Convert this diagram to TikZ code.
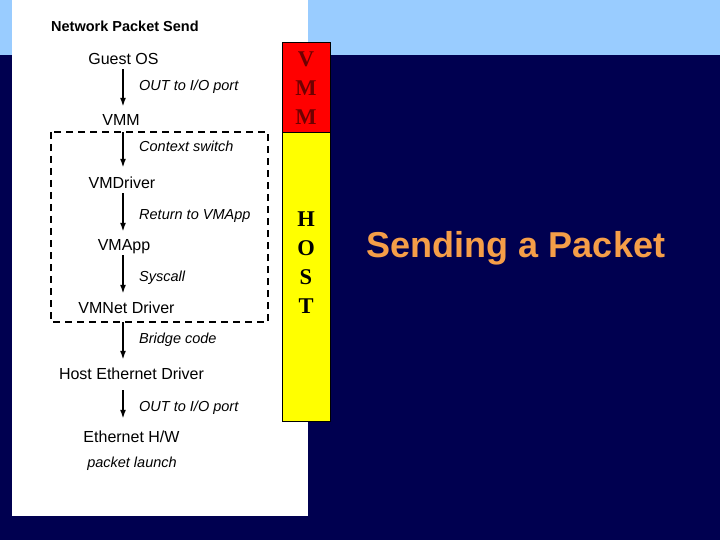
\documentclass[tikz,border=0pt]{standalone}
\usepackage{fontspec}
\setmainfont{Liberation Sans}
\newfontfamily\timesfont{Liberation Serif}
\usepackage{xcolor}
\usetikzlibrary{positioning,arrows.meta}
\definecolor{navybg}{RGB}{0,0,80}
\definecolor{skyband}{RGB}{153,204,255}
\definecolor{vmmred}{RGB}{255,0,0}
\definecolor{vmmtext}{RGB}{110,0,0}
\definecolor{hostyellow}{RGB}{255,255,0}
\definecolor{titleorange}{RGB}{245,158,72}

\begin{document}
\begin{tikzpicture}[
  x=1pt, y=-1pt,
  stage/.style={anchor=base, inner sep=0pt, text height=12pt, text depth=4pt, font=\fontsize{16}{19}\selectfont},
  lbl/.style={anchor=base west, inner sep=0pt, font=\fontsize{14.5}{17}\selectfont\itshape},
  layer/.style={draw=black, line width=0.8pt, minimum width=48pt, inner sep=0pt},
  letters/.style={inner sep=0pt, align=center, font=\timesfont\bfseries\fontsize{22.5}{29}\selectfont},
  arr/.style={-{Latex[length=9pt,width=6pt]}, line width=1.7pt, shorten >=7pt}
]
\useasboundingbox (0,0) rectangle (720,540);
\fill[navybg] (0,0) rectangle (720,540);
\fill[skyband] (0,0) rectangle (720,55);
\fill[white] (12,0) rectangle (308,516);

\draw[line width=1.6pt, dash pattern=on 7pt off 5pt] (51,132) rectangle (268,322);

\node[anchor=base west, inner sep=0pt, font=\bfseries\fontsize{14.5}{17}\selectfont] (title) at (51,32) {Network Packet Send};

\coordinate (flow) at (123,0);
\node[stage] (guest) at (123.5,65) {Guest OS};
\node[stage] (vmm) at (121,126) {VMM};
\node[stage] (vmdrv) at (122,189) {VMDriver};
\node[stage] (vmapp) at (124,251) {VMApp};
\node[stage] (vmnet) at (126.5,313) {VMNet Driver};
\node[stage] (hosteth) at (131.5,379) {Host Ethernet Driver};
\node[stage] (ethhw) at (131.5,442) {Ethernet H/W};

\node[lbl] (l1) at (139,91) {OUT to I/O port};
\node[lbl] (l2) at (139,152) {Context switch};
\node[lbl] (l3) at (139,219) {Return to VMApp};
\node[lbl] (l4) at (139,281) {Syscall};
\node[lbl] (l5) at (139,343) {Bridge code};
\node[lbl] (l6) at (139,411) {OUT to I/O port};
\node[lbl, anchor=base] (launch) at (132,467) {packet launch};

\draw[arr] (guest.south -| flow) -- (vmm.north -| flow);
\draw[arr, shorten <=2pt, shorten >=9pt] (vmm.south -| flow) -- (vmdrv.north -| flow);
\draw[arr] (vmdrv.south -| flow) -- (vmapp.north -| flow);
\draw[arr] (vmapp.south -| flow) -- (vmnet.north -| flow);
\draw[arr, shorten <=5pt] (vmnet.south -| flow) -- (hosteth.north -| flow);
\draw[arr, shorten <=7pt, shorten >=11pt] (hosteth.south -| flow) -- (ethhw.north -| flow);

\node[layer, fill=vmmred, minimum height=90pt] (vmmbox) at (306,87) {};
\node[letters, text=vmmtext] (vmmtxt) at (306,88.5) {V\\M\\M};
\node[layer, fill=hostyellow, minimum height=289pt] (hostbox) at (306,276.5) {};
\node[letters] (hosttxt) at (306,263) {H\\O\\S\\T};

\node[anchor=base, inner sep=0pt, text=titleorange, font=\bfseries\fontsize{36}{43}\selectfont] (slidetitle) at (516,258) {Sending a Packet};
\end{tikzpicture}
\end{document}
